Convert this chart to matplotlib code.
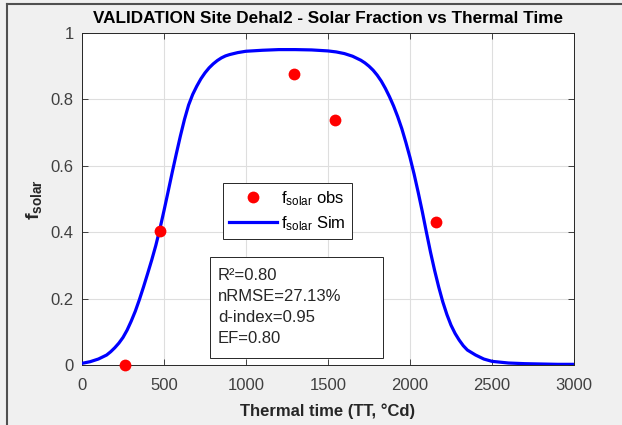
import matplotlib
matplotlib.use("Agg")
import matplotlib.pyplot as plt
from matplotlib.lines import Line2D
from matplotlib.patches import Rectangle

plt.rcParams['font.family'] = ['Liberation Sans', 'DejaVu Sans']
plt.rcParams['mathtext.fontset'] = 'custom'
plt.rcParams['mathtext.rm'] = 'Liberation Sans'
plt.rcParams['mathtext.it'] = 'Liberation Sans:italic'
plt.rcParams['mathtext.bf'] = 'Liberation Sans:bold'

# Observed data
obs_tt = [265, 474, 1290, 1545, 2160]
obs_f = [0.0, 0.405, 0.877, 0.737, 0.430]

# Simulated curve
sim_tt = [0, 50, 100, 150, 175, 200, 225, 250, 275, 300, 325, 350, 375, 400, 425,
          450, 475, 500, 525, 550, 575, 600, 625, 650, 675, 700, 725, 750, 775,
          800, 825, 850, 875, 900, 950, 1000, 1100, 1200, 1300, 1400, 1500, 1550,
          1600, 1650, 1700, 1725, 1750, 1775, 1800, 1825, 1850, 1875, 1900, 1925,
          1950, 1975, 2000, 2025, 2050, 2075, 2100, 2125, 2150, 2175, 2200, 2225,
          2250, 2275, 2300, 2325, 2350, 2400, 2450, 2500, 2600, 2700, 2800, 2900, 3000]
sim_f = [0.005, 0.010, 0.018, 0.030, 0.040, 0.052, 0.066, 0.083, 0.105, 0.132,
         0.162, 0.197, 0.235, 0.275, 0.316, 0.360, 0.410, 0.465, 0.522, 0.580,
         0.636, 0.690, 0.740, 0.783, 0.815, 0.840, 0.862, 0.880, 0.895, 0.907,
         0.917, 0.925, 0.931, 0.935, 0.941, 0.945, 0.948, 0.950, 0.950, 0.949,
         0.946, 0.943, 0.938, 0.930, 0.918, 0.910, 0.900, 0.888, 0.873, 0.855,
         0.833, 0.808, 0.780, 0.748, 0.712, 0.670, 0.625, 0.575, 0.520, 0.462,
         0.400, 0.340, 0.285, 0.235, 0.190, 0.152, 0.120, 0.095, 0.075, 0.058,
         0.045, 0.030, 0.018, 0.011, 0.006, 0.004, 0.003, 0.002, 0.002]

xticks = [0, 500, 1000, 1500, 2000, 2500, 3000]
yticks = [0, 0.2, 0.4, 0.6, 0.8, 1]
ytick_labels = ['0', '0.2', '0.4', '0.6', '0.8', '1']

stats = ['R²=0.80', 'nRMSE=27.13%', 'd-index=0.95', 'EF=0.80']

fig = plt.figure(figsize=(6.22, 4.25), dpi=100, facecolor='#f0f0f0')
ax = fig.add_axes([82/622, 1-365/425, 492/622, 332/425])
ax.set_facecolor('white')

ax.plot(obs_tt, obs_f, 'o', color='red', markersize=8.5, markeredgewidth=0,
        label=r'f$_{\mathrm{solar}}$ obs', zorder=4, clip_on=False)
ax.plot(sim_tt, sim_f, '-', color='blue', linewidth=2.3, solid_joinstyle='round',
        label=r'f$_{\mathrm{solar}}$ Sim', zorder=3)

ax.set_xlim(0, 3000)
ax.set_ylim(0, 1)
ax.set_xticks(xticks)
ax.set_yticks(yticks)
ax.set_yticklabels(ytick_labels)
ax.grid(True, color='#dedede', linewidth=0.8)
ax.set_axisbelow(True)
ax.tick_params(direction='in', top=True, right=True, length=4, width=0.6,
               colors='#262626', labelsize=12, labelcolor='#404040', pad=6)
ax.tick_params(axis='x', pad=9)
for s in ax.spines.values():
    s.set_color('#262626')
    s.set_linewidth(0.7)

ax.set_title('VALIDATION Site Dehal2 - Solar Fraction vs Thermal Time',
             fontsize=12.3, fontweight='bold', color='black', pad=7)
ax.set_xlabel('Thermal time (TT, °Cd)', fontsize=12, fontweight='bold',
              color='#262626', labelpad=8)
ax.set_ylabel(r'$\mathbf{f_{solar}}$', fontsize=14, color='#262626', labelpad=5)

leg = ax.legend(loc='upper left', bbox_to_anchor=((223-82)/492, (365-183)/332),
                fontsize=12, frameon=True, fancybox=False, edgecolor='#262626',
                framealpha=1, handlelength=2.9, borderpad=0.35, labelspacing=0.4,
                handletextpad=0.25, borderaxespad=0)
leg.get_frame().set_linewidth(0.7)

# Statistics box
rect = Rectangle(((210-82)/492, (365-358)/332), 173/492, 101/332,
                 transform=ax.transAxes, facecolor='white', edgecolor='#262626',
                 linewidth=0.7, zorder=5)
ax.add_patch(rect)
for i, s in enumerate(stats):
    ax.text((218-82)/492, (365-275 - i*21.3)/332, s, transform=ax.transAxes,
            fontsize=12, va='center', ha='left', color='#262626', zorder=6)

# figure border lines (top and left)
fig.add_artist(Line2D([7/622, 1], [1-4/425, 1-4/425], transform=fig.transFigure,
                      color='#505050', linewidth=1.5))
fig.add_artist(Line2D([7/622, 7/622], [0, 1-4/425], transform=fig.transFigure,
                      color='#505050', linewidth=1.5))

fig.savefig('out.png', dpi=100, facecolor=fig.get_facecolor())
